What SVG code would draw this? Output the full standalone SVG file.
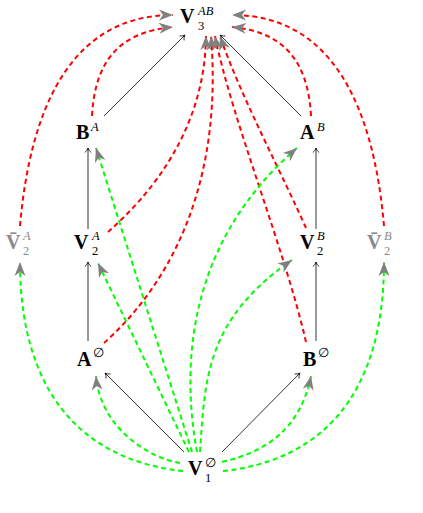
<svg xmlns="http://www.w3.org/2000/svg" width="423" height="513" viewBox="0 0 423 513">
<defs>
<style>
.bg{fill:#fff}
text{font-family:"Liberation Serif","DejaVu Serif",serif;fill:#000}
.b{font-weight:bold;font-size:20px}
.s{font-size:12.5px}
.i{font-style:italic}
.gr text,.gr{fill:#8a8a8a}
.blk{fill:none;stroke:#000;stroke-width:0.8;marker-end:url(#to)}
.red{fill:none;stroke:#ff0000;stroke-width:2;stroke-dasharray:5 3.5;marker-end:url(#ah)}
.grn{fill:none;stroke:#00ff00;stroke-width:2;stroke-dasharray:5 3.5;marker-end:url(#ah)}
</style>
<marker id="ah" markerUnits="userSpaceOnUse" viewBox="-15 -7 16 14" refX="0" refY="0" markerWidth="16" markerHeight="14" orient="auto" overflow="visible">
<path d="M0,0 L-14,-5.5 L-10,0 L-14,5.5 Z" fill="#808080"/>
</marker>
<marker id="to" markerUnits="userSpaceOnUse" viewBox="-6 -4 7 8" refX="0" refY="0" markerWidth="7" markerHeight="8" orient="auto" overflow="visible">
<path d="M-4.5,-3.2 C-3,-1.2 -1,-0.3 0,0 C-1,0.3 -3,1.2 -4.5,3.2" fill="none" stroke="#000" stroke-width="0.8"/>
</marker>
</defs>
<rect class="bg" width="423" height="513"/>
<g id="connectors">
<path class="blk" d="M88,229 L88,148"/>
<path class="blk" d="M88,341 L88,262"/>
<path class="blk" d="M316,229 L316,148"/>
<path class="blk" d="M316,341 L316,262"/>
<path class="blk" d="M104,116 L185,35"/>
<path class="blk" d="M301,116 L220,35"/>
<path class="blk" d="M184,452 L105,373"/>
<path class="blk" d="M222,452 L300,373"/>
<path class="red" d="M20,226 C30,110 70,15 173,15"/>
<path class="red" d="M92,116 C95,60 120,32 173,27"/>
<path class="red" d="M384,226 C374,110 334,15 232,15"/>
<path class="red" d="M311,116 C308,60 283,32 232,27"/>
<path class="red" d="M108,232 C150,195 205,130 206,36"/>
<path class="red" d="M104,343 C180,275 222,170 211,36"/>
<path class="red" d="M306,342 C285,250 232,120 215,36"/>
<path class="red" d="M306,228 C285,180 240,95 220,36"/>
<path class="grn" d="M183,471 C80,460 20,390 20,262"/>
<path class="grn" d="M180,463 C145,457 100,425 96,376"/>
<path class="grn" d="M189,452 L98,263"/>
<path class="grn" d="M192,452 L96,148"/>
<path class="grn" d="M197,452 C180,360 190,240 297,148"/>
<path class="grn" d="M200,452 C205,380 205,320 292,260"/>
<path class="grn" d="M222,462 C265,452 300,430 311,376"/>
<path class="grn" d="M223,471 C326,460 384,390 384,262"/>
</g>
<g id="V3AB"><text y="23"><tspan class="b" x="180">V</tspan><tspan class="s i" x="198" y="15">AB</tspan><tspan class="s" x="198" y="30">3</tspan></text></g>
<g id="BA"><text y="139"><tspan class="b" x="76">B</tspan><tspan class="s i" x="91" y="131">A</tspan></text></g>
<g id="AB"><text y="139"><tspan class="b" x="300">A</tspan><tspan class="s i" x="317" y="131">B</tspan></text></g>
<g id="V2A"><text y="249"><tspan class="b" x="74">V</tspan><tspan class="s i" x="92" y="240">A</tspan><tspan class="s" x="92" y="255">2</tspan></text></g>
<g id="V2B"><text y="249"><tspan class="b" x="300">V</tspan><tspan class="s i" x="317" y="240">B</tspan><tspan class="s" x="317" y="255">2</tspan></text></g>
<g id="V2Abar" class="gr"><text y="249"><tspan class="b" x="6">V&#x304;</tspan><tspan class="s i" x="23" y="240">A</tspan><tspan class="s" x="23" y="255">2</tspan></text></g>
<g id="V2Bbar" class="gr"><text y="249"><tspan class="b" x="367">V&#x304;</tspan><tspan class="s i" x="384" y="240">B</tspan><tspan class="s" x="384" y="255">2</tspan></text></g>
<g id="A0"><text y="366"><tspan class="b" x="77">A</tspan><tspan class="s" x="93" y="357">∅</tspan></text></g>
<g id="B0"><text y="366"><tspan class="b" x="303">B</tspan><tspan class="s" x="318" y="357">∅</tspan></text></g>
<g id="V1"><text y="475"><tspan class="b" x="188">V</tspan><tspan class="s" x="205" y="467">∅</tspan><tspan class="s" x="205" y="482">1</tspan></text></g>
</svg>
